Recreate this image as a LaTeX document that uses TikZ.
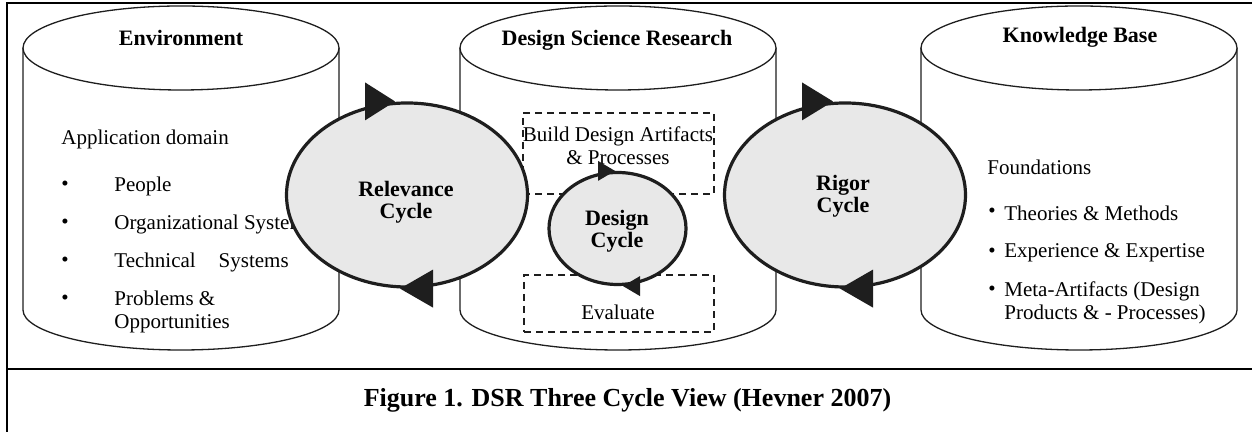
\documentclass[tikz,border=0pt]{standalone}
\usepackage{fontspec}
\setmainfont{Liberation Serif}
\usepackage{tikz}
\usetikzlibrary{shapes.geometric}
\definecolor{cyclefill}{RGB}{232,232,232}
\definecolor{inkline}{RGB}{30,30,30}
\newcommand{\dsrbody}{\fontsize{10.5}{11.5}\selectfont}
\newcommand{\dsrhead}{\fontsize{11}{11}\selectfont\bfseries}
\newcommand{\dsrcap}{\fontsize{13}{13}\selectfont\bfseries}
\tikzset{
  frameline/.style={line width=1.25pt,black},
  cylline/.style={line width=0.65pt,draw=inkline,fill=white},
  cyclering/.style={ellipse,draw=inkline,line width=1.6pt,fill=cyclefill,inner sep=0pt},
  cyctip/.style={fill=inkline},
  dashbox/.style={draw=inkline,line width=0.65pt,dash pattern=on 3.5pt off 2.5pt,inner sep=0pt},
  headtext/.style={font=\dsrhead,inner sep=0pt,align=center},
  itemtext/.style={font=\dsrbody,inner sep=0pt,anchor=west,align=left},
  captext/.style={font=\dsrcap,inner sep=0pt}
}
\begin{document}
\begin{tikzpicture}[x=0.5pt,y=0.5pt]
  \useasboundingbox (0,0) rectangle (1252,432);
  % frame
  \draw[frameline] (7,0) -- (7,429) -- (1252,429);
  \draw[frameline] (7,63) -- (1252,63);
  % cylinders
  \draw[cylline] (23,384) -- (23,122) arc[start angle=180,end angle=360,x radius=158,y radius=40] -- (339,384);
  \draw[cylline] (181,384) ellipse[x radius=158,y radius=42];
  \draw[cylline] (460,384) -- (460,122) arc[start angle=180,end angle=360,x radius=158,y radius=40] -- (776,384);
  \draw[cylline] (618,384) ellipse[x radius=158,y radius=42];
  \draw[cylline] (921,384) -- (921,122) arc[start angle=180,end angle=360,x radius=158,y radius=40] -- (1237,384);
  \draw[cylline] (1079,384) ellipse[x radius=158,y radius=42];
  \node[headtext] (envtitle) at (181,394.5) {Environment};
  \node[headtext] (dsrtitle) at (617,391.5) {Design Science Research};
  \node[headtext] (kbtitle) at (1080,394.5) {Knowledge Base};
  % environment
  \node[itemtext] (appdomain) at (61,293) {Application domain};
  \node[itemtext] (envdotA) at (61,246) {\textbullet};
  \node[itemtext] (people) at (114,246) {People};
  \node[itemtext] (envdotB) at (61,208) {\textbullet};
  \node[itemtext] (orgsys) at (114,208) {Organizational System};
  \node[itemtext] (envdotC) at (61,170) {\textbullet};
  \node[itemtext] (techsys) at (114,170) {Technical\hspace{11.5pt}Systems};
  \node[itemtext] (envdotD) at (61,132) {\textbullet};
  \node[itemtext] (problems) at (114,120) {Problems \&\\Opportunities};
  % knowledge base
  \node[itemtext] (foundations) at (987,264.5) {Foundations};
  \node[itemtext] (kbdotA) at (988,219) {\textbullet};
  \node[itemtext] (theories) at (1004,219) {Theories \& Methods};
  \node[itemtext] (kbdotB) at (988,179) {\textbullet};
  \node[itemtext] (experience) at (1004,179) {Experience \& Expertise};
  \node[itemtext] (kbdotC) at (988,141) {\textbullet};
  \node[itemtext] (metaart) at (1004,129) {Meta-Artifacts (Design\\Products \& - Processes)};
  % design science research
  \node[dashbox,minimum width=95.5pt,minimum height=40.5pt] (buildbox) at (618.5,278.5) {};
  \node[dashbox,minimum width=95pt,minimum height=28.5pt] (evalbox) at (619,128.5) {};
  \node[itemtext,anchor=center,align=center] (buildtext) at (618,286) {Build Design Artifacts\\\& Processes};
  \node[itemtext,anchor=center] (evaltext) at (618,120) {Evaluate};
  % cycles
  \node[cyclering,minimum width=120.5pt,minimum height=92pt] (relcycle) at (407,237) {};
  \node[cyclering,minimum width=120.5pt,minimum height=92pt] (rigcycle) at (845,237) {};
  \node[cyclering,minimum width=68.5pt,minimum height=56pt] (descycle) at (617.5,203.5) {};
  \node[headtext] (rellabel) at (406,229.5) {Relevance\\Cycle};
  \node[headtext] (riglabel) at (843,235.5) {Rigor\\Cycle};
  \node[headtext] (deslabel) at (617,201) {Design\\Cycle};
  \fill[cyctip] ([xshift=-6pt]relcycle.north) -- ++(-15pt,9.5pt) -- ++(0,-19pt) -- cycle;
  \fill[cyctip] ([xshift=-3.5pt]relcycle.south) -- ++(16.5pt,9.5pt) -- ++(0,-19pt) -- cycle;
  \fill[cyctip] ([xshift=-6pt]rigcycle.north) -- ++(-15.5pt,9.5pt) -- ++(0,-19pt) -- cycle;
  \fill[cyctip] ([xshift=-2.5pt]rigcycle.south) -- ++(16.5pt,9.5pt) -- ++(0,-19pt) -- cycle;
  \fill[cyctip] ([xshift=-1.25pt]descycle.north) -- ++(-8.5pt,5pt) -- ++(0,-10pt) -- cycle;
  \fill[cyctip] ([xshift=2.75pt]descycle.south) -- ++(8.5pt,5pt) -- ++(0,-10pt) -- cycle;
  % caption
  \node[captext] (caption) at (627.5,32) {Figure 1. DSR Three Cycle View (Hevner 2007)};
\end{tikzpicture}
\end{document}
